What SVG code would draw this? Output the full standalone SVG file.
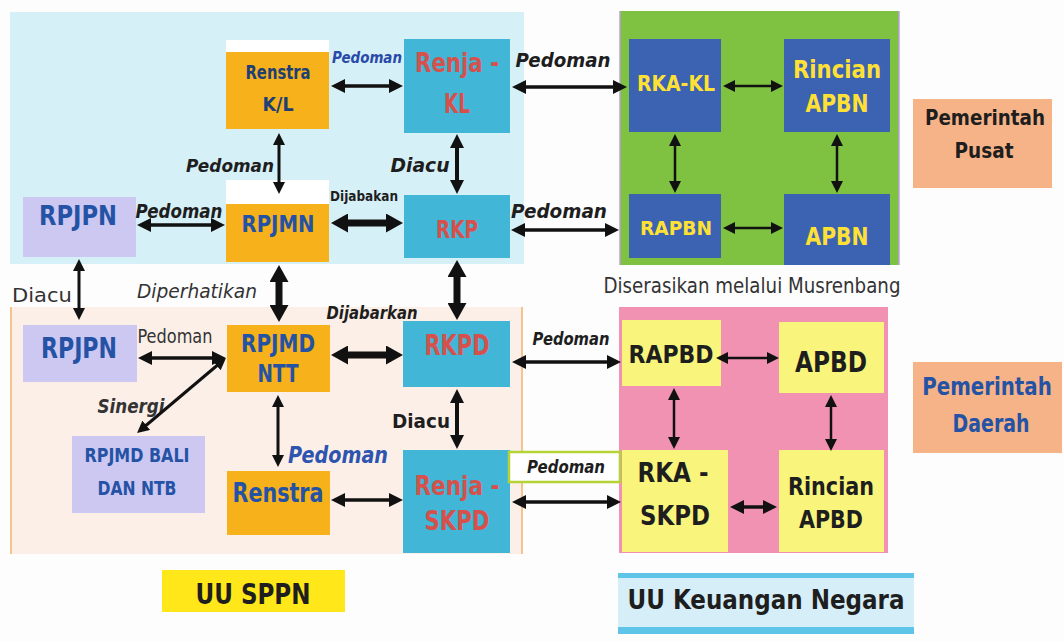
<svg xmlns="http://www.w3.org/2000/svg" width="1064" height="641" viewBox="0 0 1064 641">
<defs>
<style>
.t{font-family:'DejaVu Sans Condensed','DejaVu Sans',sans-serif;font-weight:bold;text-anchor:middle}
.i{font-style:italic}
.n{font-weight:normal}
.bl{fill:#2452a4}
.nv{fill:#203f74}
.rd{fill:#d6504c}
.yl{fill:#ffe135}
.dk{fill:#1e1e1e}
.gy{fill:#333}
.or{fill:#f7b11b}
.cy{fill:#42b6d6}
.lv{fill:#cdc8f2}
.bb{fill:#3c62b2}
.yb{fill:#f9f57c}
.pe{fill:#f6b388}
.c line{stroke:#111}
.s{stroke-width:2.5}
.m{stroke-width:3.5}
.b{stroke-width:7}
</style>
<marker id="ms" viewBox="0 0 12 12" refX="5" refY="6" markerWidth="12" markerHeight="12" markerUnits="userSpaceOnUse" orient="auto-start-reverse"><path d="M0,0L12,6L0,12z" fill="#111"/></marker>
<marker id="mm" viewBox="0 0 14 14" refX="6" refY="7" markerWidth="14" markerHeight="14" markerUnits="userSpaceOnUse" orient="auto-start-reverse"><path d="M0,0L14,7L0,14z" fill="#111"/></marker>
<marker id="mb" viewBox="0 0 17 19" refX="7" refY="9.5" markerWidth="17" markerHeight="19" markerUnits="userSpaceOnUse" orient="auto-start-reverse"><path d="M0,0L17,9.5L0,19z" fill="#111"/></marker>
</defs>
<rect width="1064" height="641" fill="#fdfdfe"/>

<g id="panels">
<rect x="10" y="12" width="514" height="252" fill="#d6f0f8"/>
<rect x="10" y="307" width="513" height="247" fill="#fbefe8"/>
<line x1="11" y1="307" x2="11" y2="554" stroke="#f6c38f" stroke-width="2"/>
<line x1="522" y1="307" x2="522" y2="554" stroke="#f6c38f" stroke-width="2"/>
<rect x="620" y="11" width="279" height="254" fill="#7fc241"/>
<line x1="620" y1="11" x2="620" y2="265" stroke="#b9a0d8" stroke-width="1.5"/>
<line x1="899" y1="11" x2="899" y2="265" stroke="#b9a0d8" stroke-width="1.5"/>
<rect x="619" y="307" width="269" height="246" fill="#f292b2"/>
<rect x="226" y="40" width="103" height="13" fill="#ffffff"/>
<rect x="226" y="180" width="103" height="24" fill="#ffffff"/>
</g>

<g id="renstra-kl"><rect class="or" x="226" y="52" width="103" height="77"/>
<text class="t nv" x="278" y="79" font-size="20" textLength="65" lengthAdjust="spacingAndGlyphs">Renstra</text>
<text class="t nv" x="278" y="111" font-size="20" textLength="31" lengthAdjust="spacingAndGlyphs">K/L</text></g>

<g id="renja-kl"><rect class="cy" x="404" y="39" width="106" height="94"/>
<text class="t rd" x="457" y="72" font-size="27" textLength="84" lengthAdjust="spacingAndGlyphs">Renja -</text>
<text class="t rd" x="457" y="113" font-size="27" textLength="26" lengthAdjust="spacingAndGlyphs">KL</text></g>

<g id="rka-kl"><rect class="bb" x="629" y="39" width="92" height="93"/>
<text class="t yl" x="676" y="91" font-size="21" textLength="78" lengthAdjust="spacingAndGlyphs">RKA-KL</text></g>

<g id="rincian-apbn"><rect class="bb" x="784" y="39" width="106" height="93"/>
<text class="t yl" x="837" y="78" font-size="24" textLength="88" lengthAdjust="spacingAndGlyphs">Rincian</text>
<text class="t yl" x="837" y="112" font-size="24" textLength="63" lengthAdjust="spacingAndGlyphs">APBN</text></g>

<g id="rapbn"><rect class="bb" x="629" y="194" width="92" height="64"/>
<text class="t yl" x="676" y="235" font-size="20" textLength="72" lengthAdjust="spacingAndGlyphs">RAPBN</text></g>

<g id="apbn"><rect class="bb" x="784" y="194" width="106" height="71"/>
<text class="t yl" x="837" y="245" font-size="25" textLength="63" lengthAdjust="spacingAndGlyphs">APBN</text></g>

<g id="pemerintah-pusat"><rect class="pe" x="913" y="99" width="139" height="89"/>
<text class="t dk" x="985" y="125" font-size="22" textLength="120" lengthAdjust="spacingAndGlyphs">Pemerintah</text>
<text class="t dk" x="984" y="158" font-size="22" textLength="59" lengthAdjust="spacingAndGlyphs">Pusat</text></g>

<g id="rpjpn-pusat"><rect class="lv" x="23" y="197" width="113" height="60"/>
<text class="t bl" x="78" y="225" font-size="27" textLength="78" lengthAdjust="spacingAndGlyphs">RPJPN</text></g>

<g id="rpjmn"><rect class="or" x="226" y="204" width="103" height="58"/>
<text class="t bl" x="278" y="232" font-size="23" textLength="73" lengthAdjust="spacingAndGlyphs">RPJMN</text></g>

<g id="rkp"><rect class="cy" x="404" y="195" width="106" height="63"/>
<text class="t rd" x="457" y="238" font-size="24" textLength="42" lengthAdjust="spacingAndGlyphs">RKP</text></g>

<g id="musrenbang"><text class="t n gy" x="752" y="293" font-size="21" textLength="297" lengthAdjust="spacingAndGlyphs">Diserasikan melalui Musrenbang</text></g>

<g id="rpjpn-daerah"><rect class="lv" x="23" y="325" width="114" height="57"/>
<text class="t bl" x="79" y="358" font-size="29" textLength="76" lengthAdjust="spacingAndGlyphs">RPJPN</text></g>

<g id="rpjmd-ntt"><rect class="or" x="227" y="325" width="103" height="67"/>
<text class="t bl" x="278" y="352" font-size="25" textLength="74" lengthAdjust="spacingAndGlyphs">RPJMD</text>
<text class="t bl" x="278" y="382" font-size="25" textLength="41" lengthAdjust="spacingAndGlyphs">NTT</text></g>

<g id="rpjmd-bali"><rect class="lv" x="72" y="436" width="133" height="77"/>
<text class="t bl" x="137" y="462" font-size="19" textLength="105" lengthAdjust="spacingAndGlyphs">RPJMD BALI</text>
<text class="t bl" x="137" y="495" font-size="19" textLength="79" lengthAdjust="spacingAndGlyphs">DAN NTB</text></g>

<g id="renstra"><rect class="or" x="227" y="471" width="103" height="64"/>
<text class="t bl" x="278" y="502" font-size="26" textLength="91" lengthAdjust="spacingAndGlyphs">Renstra</text></g>

<g id="rkpd"><rect class="cy" x="403" y="321" width="107" height="66"/>
<text class="t rd" x="457" y="355" font-size="28" textLength="65" lengthAdjust="spacingAndGlyphs">RKPD</text></g>

<g id="renja-skpd"><rect class="cy" x="403" y="450" width="107" height="103"/>
<text class="t rd" x="457" y="495" font-size="27" textLength="85" lengthAdjust="spacingAndGlyphs">Renja -</text>
<text class="t rd" x="457" y="530" font-size="27" textLength="65" lengthAdjust="spacingAndGlyphs">SKPD</text></g>

<g id="pedoman-box"><rect x="509" y="452" width="111" height="30" fill="#ffffff" stroke="#b5d334" stroke-width="2.5"/>
<text class="t i dk" x="566" y="473" font-size="17" textLength="78" lengthAdjust="spacingAndGlyphs">Pedoman</text></g>

<g id="rapbd"><rect class="yb" x="622" y="320" width="99" height="66"/>
<text class="t dk" x="671" y="363" font-size="24" textLength="85" lengthAdjust="spacingAndGlyphs">RAPBD</text></g>

<g id="apbd"><rect class="yb" x="779" y="322" width="105" height="71"/>
<text class="t dk" x="831" y="372" font-size="28" textLength="72" lengthAdjust="spacingAndGlyphs">APBD</text></g>

<g id="rka-skpd"><rect class="yb" x="622" y="450" width="106" height="102"/>
<text class="t dk" x="673" y="482" font-size="26" textLength="71" lengthAdjust="spacingAndGlyphs">RKA -</text>
<text class="t dk" x="675" y="525" font-size="26" textLength="70" lengthAdjust="spacingAndGlyphs">SKPD</text></g>

<g id="rincian-apbd"><rect class="yb" x="779" y="450" width="105" height="102"/>
<text class="t dk" x="831" y="495" font-size="24" textLength="86" lengthAdjust="spacingAndGlyphs">Rincian</text>
<text class="t dk" x="831" y="528" font-size="24" textLength="64" lengthAdjust="spacingAndGlyphs">APBD</text></g>

<g id="pemerintah-daerah"><rect class="pe" x="913" y="362" width="149" height="91"/>
<text class="t bl" transform="translate(987,395) scale(0.8,1)" x="0" y="0" font-size="25" textLength="162" lengthAdjust="spacingAndGlyphs">Pemerintah</text>
<text class="t bl" transform="translate(991,432) scale(0.8,1)" x="0" y="0" font-size="25" textLength="96" lengthAdjust="spacingAndGlyphs">Daerah</text></g>

<g id="uu-sppn"><rect x="162" y="570" width="183" height="42" fill="#ffe71a"/>
<text class="t dk" x="253" y="604" font-size="28" textLength="115" lengthAdjust="spacingAndGlyphs">UU SPPN</text></g>

<g id="uu-keuangan"><rect x="618" y="573" width="296" height="61" fill="#d6eef8"/>
<rect x="618" y="573" width="296" height="5" fill="#5ec4e8"/>
<rect x="618" y="627" width="296" height="7" fill="#5ec4e8"/>
<text class="t dk" x="766" y="609" font-size="27" textLength="277" lengthAdjust="spacingAndGlyphs">UU Keuangan Negara</text></g>

<g id="labels">
<text class="t i" x="367" y="63" font-size="15" fill="#2a4aa8" textLength="70" lengthAdjust="spacingAndGlyphs">Pedoman</text>
<text class="t i dk" x="563" y="67" font-size="20" textLength="95" lengthAdjust="spacingAndGlyphs">Pedoman</text>
<text class="t i dk" x="559" y="218" font-size="20" textLength="96" lengthAdjust="spacingAndGlyphs">Pedoman</text>
<text class="t i dk" x="230" y="172" font-size="18" textLength="88" lengthAdjust="spacingAndGlyphs">Pedoman</text>
<text class="t i dk" x="420" y="172" font-size="19" textLength="59" lengthAdjust="spacingAndGlyphs">Diacu</text>
<text class="t dk" x="364" y="201" font-size="14" textLength="68" lengthAdjust="spacingAndGlyphs">Dijabakan</text>
<text class="t i dk" x="179" y="218" font-size="19" textLength="87" lengthAdjust="spacingAndGlyphs">Pedoman</text>
<text class="t n gy" x="42" y="302" font-size="20" textLength="60" lengthAdjust="spacingAndGlyphs">Diacu</text>
<text class="t i n gy" x="197" y="298" font-size="19" textLength="120" lengthAdjust="spacingAndGlyphs">Diperhatikan</text>
<text class="t i dk" x="372" y="319" font-size="18" textLength="91" lengthAdjust="spacingAndGlyphs">Dijabarkan</text>
<text class="t n gy" x="175" y="343" font-size="19" textLength="75" lengthAdjust="spacingAndGlyphs">Pedoman</text>
<text class="t i gy" x="131" y="413" font-size="19" textLength="67" lengthAdjust="spacingAndGlyphs">Sinergi</text>
<text class="t i" x="338" y="463" font-size="23" fill="#2d55b0" textLength="100" lengthAdjust="spacingAndGlyphs">Pedoman</text>
<text class="t dk" x="421" y="428" font-size="20" textLength="58" lengthAdjust="spacingAndGlyphs">Diacu</text>
<text class="t i dk" x="571" y="345" font-size="17" textLength="77" lengthAdjust="spacingAndGlyphs">Pedoman</text>
</g>

<g id="connectors" class="c">
<line class="m" x1="339" y1="86" x2="395" y2="86" marker-start="url(#mm)" marker-end="url(#mm)"/>
<line class="m" x1="520" y1="87" x2="619" y2="87" marker-start="url(#mm)" marker-end="url(#mm)"/>
<line class="s" x1="730" y1="86" x2="776" y2="86" marker-start="url(#ms)" marker-end="url(#ms)"/>
<line class="s" x1="675" y1="141" x2="675" y2="186" marker-start="url(#ms)" marker-end="url(#ms)"/>
<line class="s" x1="837" y1="141" x2="837" y2="186" marker-start="url(#ms)" marker-end="url(#ms)"/>
<line class="s" x1="730" y1="228" x2="776" y2="228" marker-start="url(#ms)" marker-end="url(#ms)"/>
<line class="m" x1="519" y1="230" x2="611" y2="230" marker-start="url(#mm)" marker-end="url(#mm)"/>
<line stroke-width="4" x1="457" y1="142" x2="457" y2="186" marker-start="url(#mm)" marker-end="url(#mm)"/>
<line stroke-width="3" x1="279" y1="140" x2="279" y2="187" marker-start="url(#ms)" marker-end="url(#ms)"/>
<line class="m" x1="145" y1="225" x2="217" y2="225" marker-start="url(#mm)" marker-end="url(#mm)"/>
<line class="b" x1="341" y1="223" x2="393" y2="223" marker-start="url(#mb)" marker-end="url(#mb)"/>
<line stroke-width="3" x1="79" y1="266" x2="79" y2="313" marker-start="url(#ms)" marker-end="url(#ms)"/>
<line class="b" x1="279" y1="275" x2="279" y2="312" marker-start="url(#mb)" marker-end="url(#mb)"/>
<line class="b" x1="457" y1="270" x2="457" y2="310" marker-start="url(#mb)" marker-end="url(#mb)"/>
<line class="m" x1="146" y1="358" x2="218" y2="358" marker-start="url(#mm)" marker-end="url(#mm)"/>
<line stroke-width="3" x1="220.6" y1="362.5" x2="142.4" y2="428.5" marker-start="url(#ms)" marker-end="url(#ms)"/>
<line class="b" x1="341" y1="355" x2="393" y2="355" marker-start="url(#mb)" marker-end="url(#mb)"/>
<line stroke-width="3" x1="278" y1="402" x2="278" y2="460" marker-start="url(#ms)" marker-end="url(#ms)"/>
<line stroke-width="4" x1="457" y1="397" x2="457" y2="441" marker-start="url(#mm)" marker-end="url(#mm)"/>
<line class="m" x1="339" y1="500" x2="395" y2="500" marker-start="url(#mm)" marker-end="url(#mm)"/>
<line class="m" x1="520" y1="362" x2="613" y2="362" marker-start="url(#mm)" marker-end="url(#mm)"/>
<line class="m" x1="520" y1="502" x2="613" y2="502" marker-start="url(#mm)" marker-end="url(#mm)"/>
<line class="s" x1="723" y1="358" x2="772" y2="358" marker-start="url(#ms)" marker-end="url(#ms)"/>
<line class="s" x1="674" y1="395" x2="674" y2="442" marker-start="url(#ms)" marker-end="url(#ms)"/>
<line class="s" x1="831" y1="402" x2="831" y2="444" marker-start="url(#ms)" marker-end="url(#ms)"/>
<line class="m" x1="738" y1="507" x2="769" y2="507" marker-start="url(#mm)" marker-end="url(#mm)"/>
</g>
</svg>
